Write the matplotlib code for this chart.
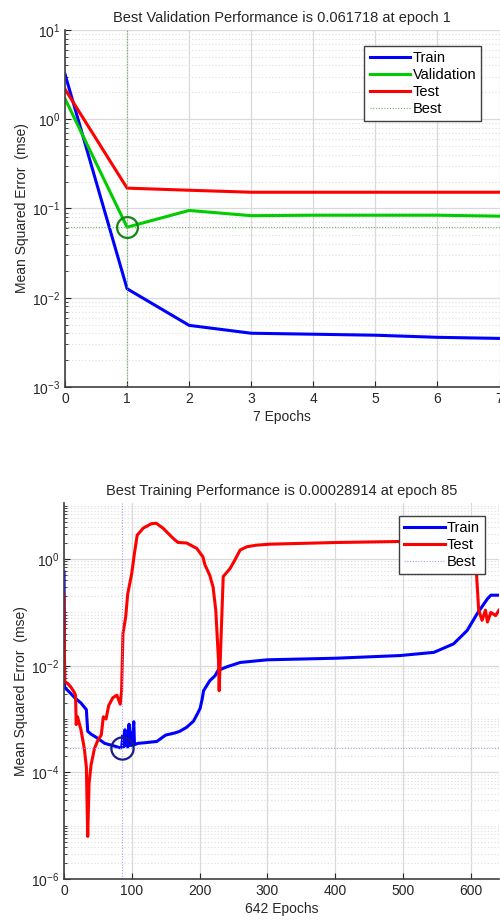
import numpy as np
import matplotlib
matplotlib.use("Agg")
import matplotlib.pyplot as plt
from matplotlib.ticker import LogLocator, FixedLocator, NullFormatter

plt.rcParams['font.family'] = ['Liberation Sans', 'DejaVu Sans']
plt.rcParams['mathtext.fontset'] = 'custom'
plt.rcParams['mathtext.rm'] = 'Liberation Sans'
plt.rcParams['mathtext.it'] = 'Liberation Sans'

# ---- top plot: validation performance ----
epochs_top = [0, 1, 2, 3, 4, 5, 6, 7]
train_top = [3.2, 0.0126, 0.0049, 0.0040, 0.0039, 0.0038, 0.0036, 0.0035]
val_top = [1.7, 0.061718, 0.095, 0.083, 0.084, 0.084, 0.084, 0.082]
test_top = [2.17, 0.169, 0.160, 0.152, 0.152, 0.152, 0.152, 0.152]
best_epoch_top = 1
best_val_top = 0.061718

# ---- bottom plot: training performance ----
epochs_train = [0, 1, 8, 16, 25, 33, 35, 40, 48, 60, 75, 82, 85, 87, 88, 90, 91, 93,
                94, 96, 97, 99, 100, 103, 104, 109, 120, 137, 150, 164, 171, 181, 191,
                197, 201, 204, 206, 215, 223, 229, 231, 240, 260, 300, 400, 496, 546,
                575, 595, 610, 625, 630, 642]
train_bot = [0.57, 3.9e-3, 3.2e-3, 2.5e-3, 2.0e-3, 1.5e-3, 5.9e-4, 5.2e-4, 4.5e-4,
             3.5e-4, 3.1e-4, 2.9e-4, 2.8914e-4, 5.0e-4, 3.0e-4, 6.3e-4, 3.2e-4, 4.5e-4,
             3.0e-4, 8.0e-4, 3.2e-4, 5.6e-4, 3.2e-4, 8.9e-4, 3.3e-4, 3.5e-4, 3.6e-4,
             3.8e-4, 5.0e-4, 5.5e-4, 5.9e-4, 7.0e-4, 9.1e-4, 1.26e-3, 1.6e-3, 2.4e-3,
             3.4e-3, 5.2e-3, 6.5e-3, 8.9e-3, 8.5e-3, 9.5e-3, 1.15e-2, 1.29e-2, 1.38e-2,
             1.55e-2, 1.78e-2, 2.57e-2, 4.57e-2, 9.55e-2, 0.18, 0.21, 0.21]
epochs_test = [0, 1, 5, 10, 15, 17, 18, 20, 25, 30, 33, 35, 37, 40, 45, 50, 55, 58, 62,
               66, 72, 78, 83, 85, 87, 91, 94, 100, 104, 108, 117, 129, 136, 146, 161,
               168, 181, 196, 205, 208, 215, 220, 224, 228, 229, 232, 235, 245, 252,
               260, 270, 284, 304, 400, 500, 600, 605, 608, 612, 617, 622, 625, 630,
               637, 642]
test_bot = [0.21, 5.0e-3, 4.7e-3, 4.0e-3, 3.2e-3, 2.8e-3, 7.9e-4, 1.1e-3, 6.3e-4,
            2.8e-4, 1.26e-4, 6.3e-6, 6.3e-5, 1.4e-4, 2.8e-4, 4.0e-4, 5.0e-4, 1.1e-3,
            1.0e-3, 1.8e-3, 2.5e-3, 2.8e-3, 1.9e-3, 3.4e-3, 4.0e-2, 8.1e-2, 0.22, 0.54,
            1.29, 2.8, 3.8, 4.6, 4.7, 3.8, 2.45, 2.05, 2.0, 1.58, 1.1, 0.78, 0.5, 0.3,
            0.11, 1.26e-2, 3.4e-3, 4.0e-2, 0.47, 0.66, 0.95, 1.48, 1.7, 1.82, 1.9, 2.04,
            2.14, 2.14, 1.6, 0.79, 0.11, 7.1e-2, 0.11, 6.6e-2, 0.10, 8.7e-2, 0.11]
best_epoch_bot = 85
best_train_bot = 0.00028914

fig = plt.figure(figsize=(5.0, 9.22), dpi=100)
ax1 = fig.add_axes([0.13, 0.5803, 0.869, 0.3872])
ax2 = fig.add_axes([0.128, 0.0466, 0.870, 0.4078])


def style_axes(ax):
    ax.grid(True, which='major', color='#d9d9d9', linewidth=0.9, linestyle='-')
    ax.grid(True, which='minor', color='#dedede', linewidth=0.8, linestyle=(0, (1, 2)))
    ax.set_axisbelow(True)
    for side in ['top', 'right']:
        ax.spines[side].set_visible(False)
    for side in ['left', 'bottom']:
        ax.spines[side].set_color('#404040')
        ax.spines[side].set_linewidth(1.2)
    ax.tick_params(which='both', direction='in', colors='#262626', labelsize=10)
    ax.tick_params(which='major', length=4)
    ax.tick_params(which='minor', length=2)


# top
ax1.plot(epochs_top, train_top, color='#0000ff', lw=2.2, label='Train')
ax1.plot(epochs_top, val_top, color='#00cc00', lw=2.2, label='Validation')
ax1.plot(epochs_top, test_top, color='#ff0000', lw=2.2, label='Test')
ax1.axvline(best_epoch_top, color='#5cb85c', lw=0.8, ls=(0, (1, 1.5)), label='Best')
ax1.axhline(best_val_top, color='#5cb85c', lw=0.8, ls=(0, (1, 1.5)))
ax1.plot([best_epoch_top], [best_val_top], 'o', mfc='none', mec='#118811', ms=15, mew=1.6)
ax1.set_yscale('log')
ax1.set_xlim(0, 7)
ax1.set_ylim(1e-3, 1e1)
ax1.set_xticks(range(0, 8))
ax1.yaxis.set_major_locator(FixedLocator([1e-3, 1e-2, 1e-1, 1e0, 1e1]))
ax1.yaxis.set_minor_locator(LogLocator(base=10, subs=np.arange(2, 10), numticks=20))
ax1.yaxis.set_minor_formatter(NullFormatter())
style_axes(ax1)
ax1.set_title('Best Validation Performance is 0.061718 at epoch 1', fontsize=10.5, color='#262626', pad=6)
ax1.set_xlabel('7 Epochs', fontsize=10, color='#262626', labelpad=3)
ax1.set_ylabel('Mean Squared Error  (mse)', fontsize=10, color='#262626', labelpad=2)
leg1 = ax1.legend(loc='upper right', bbox_to_anchor=(0.975, 0.975), fontsize=10.5, fancybox=False,
                  handlelength=2.8, handletextpad=0.15, borderpad=0.35, labelspacing=0.2,
                  framealpha=1, edgecolor='#404040')
leg1.get_frame().set_linewidth(1.0)

# bottom
ax2.plot(epochs_train, train_bot, color='#0000ff', lw=2.2, label='Train')
ax2.plot(epochs_test, test_bot, color='#ff0000', lw=2.2, label='Test')
ax2.axvline(best_epoch_bot, color='#a0a0ee', lw=0.8, ls=(0, (1, 1.5)), label='Best')
ax2.axhline(best_train_bot, color='#a0a0ee', lw=0.8, ls=(0, (1, 1.5)))
ax2.plot([best_epoch_bot], [best_train_bot], 'o', mfc='none', mec='#1a1a8c', ms=16, mew=1.6)
ax2.set_yscale('log')
ax2.set_xlim(0, 642)
ax2.set_ylim(1e-6, 10 ** 1.05)
ax2.set_xticks(range(0, 700, 100))
ax2.yaxis.set_major_locator(FixedLocator([1e-6, 1e-4, 1e-2, 1e0]))
ax2.yaxis.set_minor_locator(LogLocator(base=10, subs=np.arange(1, 10), numticks=30))
ax2.yaxis.set_minor_formatter(NullFormatter())
style_axes(ax2)
ax2.set_title('Best Training Performance is 0.00028914 at epoch 85', fontsize=10.5, color='#262626', pad=6)
ax2.set_xlabel('642 Epochs', fontsize=10, color='#262626', labelpad=3)
ax2.set_ylabel('Mean Squared Error  (mse)', fontsize=10, color='#262626', labelpad=2)
leg2 = ax2.legend(loc='upper right', bbox_to_anchor=(0.985, 0.985), fontsize=10.5, fancybox=False,
                  handlelength=2.8, handletextpad=0.15, borderpad=0.35, labelspacing=0.2,
                  framealpha=1, edgecolor='#404040')
leg2.get_frame().set_linewidth(1.0)

fig.savefig('out.png', dpi=100, facecolor='white')
